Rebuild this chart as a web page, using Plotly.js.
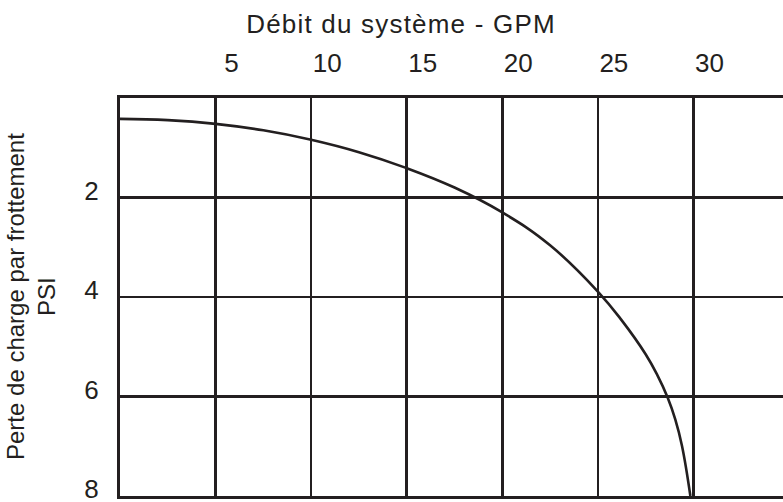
<!DOCTYPE html>
<html>
<head>
<meta charset="utf-8">
<script src="https://cdn.plot.ly/plotly-3.0.1.min.js"></script>
<style>
html,body{margin:0;padding:0;overflow:hidden;background:#fff;}
#chart{width:789px;height:502px;}
#chart .gtitle{letter-spacing:1.2px;}
</style>
</head>
<body>
<div id="chart"></div>
<script>
// Débit du système (GPM)
var flowGPM = [0, 2.5, 5, 7.5, 10, 12.5, 15, 17.5, 20, 22.5, 25, 26.25, 27.5, 28.1, 28.65, 29.05, 29.4, 29.84];
// Perte de charge par frottement (PSI)
var lossPSI = [0.42, 0.445, 0.52, 0.65, 0.84, 1.09, 1.41, 1.80, 2.30, 2.96, 3.89, 4.47, 5.15, 5.56, 6.02, 6.46, 6.99, 8.0];

var xTicks = [5, 10, 15, 20, 25, 30];
var xTickText = ['5', '10', '15', '20', '25', '30'];
var yTicks = [2, 4, 6, 8];
var yTickText = ['2', '4', '6', '8'];

var ink = '#231f20';
var fontFam = 'Arial, "Liberation Sans", Helvetica, sans-serif';

var trace = {
  x: flowGPM,
  y: lossPSI,
  mode: 'lines',
  line: {color: ink, width: 2.6, shape: 'spline', smoothing: 1.2},
  hoverinfo: 'skip',
  showlegend: false
};

var layout = {
  width: 789,
  height: 502,
  margin: {l: 120, r: 0, t: 98, b: 6, pad: 0},
  paper_bgcolor: '#ffffff',
  plot_bgcolor: '#ffffff',
  font: {family: fontFam, color: ink, size: 24},
  title: {
    text: 'Débit du système - GPM',
    font: {family: fontFam, size: 26, color: ink},
    xref: 'container', yref: 'container',
    x: 401 / 789, xanchor: 'center',
    y: 1 - 24 / 502, yanchor: 'middle'
  },
  xaxis: {
    side: 'top',
    range: [0, 35],
    tickvals: xTicks,
    ticktext: xTickText,
    ticks: '',
    ticklabelstandoff: 13,
    ticklabelshift: 16,
    ticklabeloverflow: 'allow',
    tickfont: {family: fontFam, size: 26, color: ink},
    showgrid: true,
    gridcolor: ink,
    gridwidth: 2.6,
    showline: true,
    mirror: true,
    linecolor: ink,
    linewidth: 3,
    zeroline: false,
    fixedrange: true
  },
  yaxis: {
    range: [8, 0],
    tickvals: yTicks,
    ticktext: yTickText,
    ticks: '',
    ticklabelstandoff: 13,
    ticklabelshift: 7,
    ticklabeloverflow: 'allow',
    tickfont: {family: fontFam, size: 26, color: ink},
    showgrid: true,
    gridcolor: ink,
    gridwidth: 2.6,
    showline: true,
    mirror: true,
    linecolor: ink,
    linewidth: 3,
    zeroline: false,
    fixedrange: true
  },
  annotations: [{
    text: 'Perte de charge par frottement<br>PSI',
    xref: 'paper', yref: 'paper',
    x: (31 - 120) / 669, y: 0.5,
    xanchor: 'center', yanchor: 'middle',
    textangle: -90,
    showarrow: false,
    align: 'center',
    font: {family: fontFam, size: 24, color: ink}
  }]
};

Plotly.newPlot('chart', [trace], layout, {displayModeBar: false, staticPlot: true});
</script>
</body>
</html>
